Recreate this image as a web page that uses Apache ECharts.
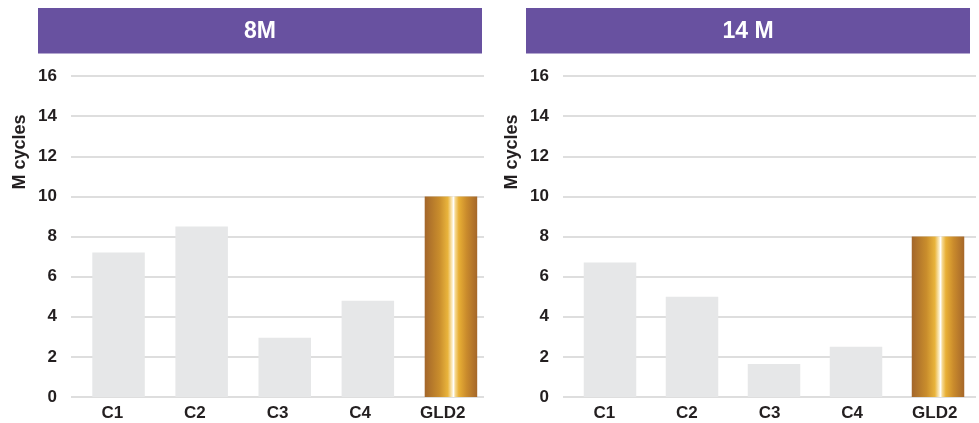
<!DOCTYPE html>
<html>
<head>
<meta charset="utf-8">
<script src="https://cdn.jsdelivr.net/npm/echarts@6/dist/echarts.min.js"></script>
<style>
html,body{margin:0;padding:0;background:#fff;}
#chart{width:979px;height:423px;}
</style>
</head>
<body>
<div id="chart"></div>
<script>
const categories = ['C1', 'C2', 'C3', 'C4', 'GLD2'];
const values8M = [7.2, 8.5, 2.95, 4.8, 10];
const values14M = [6.7, 5.0, 1.65, 2.5, 8];
const panelTitles = ['8M', '14 M'];
const yAxisName = 'M cycles';
const yMin = 0, yMax = 16, yStep = 2;

const FONT = '"Liberation Sans", Arial, Helvetica, sans-serif';
const TEXT = '#231F20';
const GRID_LINE = '#D3D3D3';
const PURPLE = '#6851A0';
const GREY_BAR = '#E6E7E8';

const gold = {
  type: 'linear', x: 0, y: 0, x2: 1, y2: 0,
  colorStops: [
    { offset: 0, color: '#A3662A' },
    { offset: 0.28, color: '#C98D2C' },
    { offset: 0.44, color: '#E9B43C' },
    { offset: 0.52, color: '#FBEBC0' },
    { offset: 0.55, color: '#FFFFFF' },
    { offset: 0.58, color: '#F6DA94' },
    { offset: 0.65, color: '#E8AF35' },
    { offset: 0.8, color: '#C98A2C' },
    { offset: 1, color: '#A5672A' }
  ]
};

const panelOffset = 492;
const linesLeft = 71, linesWidth = 413;
const barsLeft = 77, barsWidth = 415.5;
const gridTop = 76, gridHeight = 321;

const grids = [], xAxes = [], yAxes = [], series = [], graphics = [];
[values8M, values14M].forEach(function (vals, p) {
  const off = p * panelOffset;
  const gLines = grids.length;
  grids.push({ left: linesLeft + off, top: gridTop, width: linesWidth, height: gridHeight });
  const gBars = grids.length;
  grids.push({ left: barsLeft + off, top: gridTop, width: barsWidth, height: gridHeight });

  xAxes.push({
    type: 'category', gridIndex: gLines, data: categories,
    axisLine: { show: false }, axisTick: { show: false },
    axisLabel: { color: TEXT, fontFamily: FONT, fontWeight: 'bold', fontSize: 17, margin: 8 }
  });
  xAxes.push({ type: 'category', gridIndex: gBars, data: categories, show: false });

  yAxes.push({
    type: 'value', gridIndex: gLines, min: yMin, max: yMax, interval: yStep,
    axisLine: { show: false }, axisTick: { show: false },
    axisLabel: { color: TEXT, fontFamily: FONT, fontWeight: 'bold', fontSize: 17, margin: 14 },
    splitLine: { lineStyle: { color: GRID_LINE, width: 1.5 } }
  });
  yAxes.push({ type: 'value', gridIndex: gBars, min: yMin, max: yMax, interval: yStep, show: false, splitLine: { show: false } });

  series.push({
    type: 'bar', xAxisIndex: xAxes.length - 1, yAxisIndex: yAxes.length - 1,
    barWidth: 52.5, silent: true,
    data: vals.map(function (v, i) {
      return { value: v, itemStyle: { color: categories[i] === 'GLD2' ? gold : GREY_BAR } };
    })
  });

  const hx = 38 + p * 488;
  graphics.push({
    type: 'group',
    children: [
      { type: 'rect', shape: { x: hx, y: 8, width: 444, height: 45.5 }, style: { fill: PURPLE } },
      { type: 'text', x: hx + 222, y: 32, style: {
          text: panelTitles[p], fill: '#FFFFFF', font: 'bold 23px ' + FONT,
          textAlign: 'center', textVerticalAlign: 'middle' } },
      { type: 'text', x: 20 + off, y: 152, rotation: Math.PI / 2, style: {
          text: yAxisName, fill: TEXT, font: 'bold 18px ' + FONT,
          textAlign: 'center', textVerticalAlign: 'middle' } }
    ]
  });
});

const chart = echarts.init(document.getElementById('chart'));
chart.setOption({
  animation: false,
  backgroundColor: '#FFFFFF',
  grid: grids,
  xAxis: xAxes,
  yAxis: yAxes,
  series: series,
  graphic: graphics
});
</script>
</body>
</html>
